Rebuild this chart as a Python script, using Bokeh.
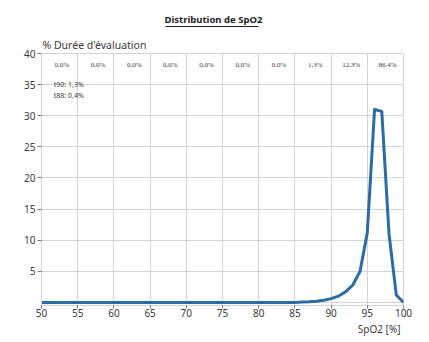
from bokeh.plotting import figure
from bokeh.models import LabelSet, Label, ColumnDataSource, FixedTicker, Range1d, Title, LinearAxis
from bokeh.embed import file_html
from bokeh.resources import INLINE

# ---- data ----
spo2 = list(range(50, 101))
duration_pct = [0.0] * 36 + [0.05, 0.1, 0.2, 0.35, 0.6, 1.0, 1.7, 2.8, 5.0, 11.2,
                             31.0, 30.7, 11.0, 1.2, 0.0]
bin_starts = [50, 55, 60, 65, 70, 75, 80, 85, 90, 95]
bin_labels = ["0,0%", "0,0%", "0,0%", "0,0%", "0,0%", "0,0%", "0,0%", "1,3%", "12,3%", "86,4%"]
x_ticks = [50, 55, 60, 65, 70, 75, 80, 85, 90, 95, 100]
y_ticks = [5, 10, 15, 20, 25, 30, 35, 40]
title_text = "Distribution de SpO2"
y_label = "% Durée d'évaluation"
x_label = "SpO2 [%]"
notes = ["t90: 1,3%", "t88: 0,4%"]

FONT = "Noto Sans"
TXT = "#3a3a3a"
GRID = "#d4d4d4"

p = figure(width=428, height=340, output_backend="svg", toolbar_location=None,
           x_range=Range1d(50, 100), y_range=Range1d(-0.5, 40),
           min_border_left=41, min_border_right=25, min_border_top=53, min_border_bottom=35)
p.background_fill_color = "white"
p.border_fill_color = "white"
p.outline_line_color = GRID

# grid
p.xgrid.ticker = FixedTicker(ticks=x_ticks)
p.ygrid.ticker = FixedTicker(ticks=[0] + y_ticks)
p.xgrid.grid_line_color = GRID
p.ygrid.grid_line_color = GRID

# axes
p.xaxis.ticker = FixedTicker(ticks=x_ticks)
p.yaxis.ticker = FixedTicker(ticks=y_ticks)
for ax in (p.xaxis[0], p.yaxis[0]):
    ax.axis_line_color = GRID
    ax.major_tick_line_color = "#777777"
    ax.major_tick_in = 0
    ax.minor_tick_line_color = None
    ax.major_label_text_font = FONT
    ax.major_label_text_font_size = "10px"
    ax.major_label_text_color = TXT
p.xaxis[0].major_tick_out = 3
p.xaxis[0].major_label_standoff = 0
p.yaxis[0].major_tick_out = 4
p.yaxis[0].major_label_standoff = 2

# x label as a right-aligned title below the axis
p.add_layout(Title(text=x_label, align="right", offset=3, text_font=FONT, text_font_size="10px",
                   text_font_style="normal", text_color=TXT, standoff=0), "below")

# curve
p.line(spo2, duration_pct, line_color="#2b6ca3", line_width=3, line_join="round")

# table of bin percentages
centers = [b + 2.8 for b in bin_starts]
src = ColumnDataSource(dict(x=centers, y=[38.15] * len(centers), t=bin_labels))
p.add_layout(LabelSet(x="x", y="y", text="t", source=src, text_align="center",
                      text_baseline="middle", text_font=FONT, text_font_size="7px",
                      text_color=TXT))

# notes
for i, n in enumerate(notes):
    p.add_layout(Label(x=51.7, y=35.0 - 1.75 * i, text=n, text_align="left",
                       text_baseline="middle", text_font=FONT, text_font_size="7px",
                       text_color=TXT))

# titles above (first added = closest to the frame)
t_y = Title(text=y_label, align="left", offset=1, text_font=FONT, text_font_size="10.5px",
            text_font_style="normal", text_color=TXT, standoff=3)
spacer = Title(text=" ", text_font=FONT, text_font_size="1px", standoff=5)
underline = LinearAxis(bounds=(67.1, 80.0), axis_line_color="#222222", axis_line_width=1,
                       major_tick_line_color=None, minor_tick_line_color=None,
                       major_label_text_font_size="0px", ticker=FixedTicker(ticks=[]))
t_main = Title(text=title_text, align="left", offset=123, text_font=FONT, text_font_size="9.5px",
               text_font_style="bold", text_color="#222222", standoff=1)
p.add_layout(t_y, "above")
p.add_layout(spacer, "above")
p.add_layout(underline, "above")
p.add_layout(t_main, "above")

open("out.html", "w").write(file_html(p, INLINE))
